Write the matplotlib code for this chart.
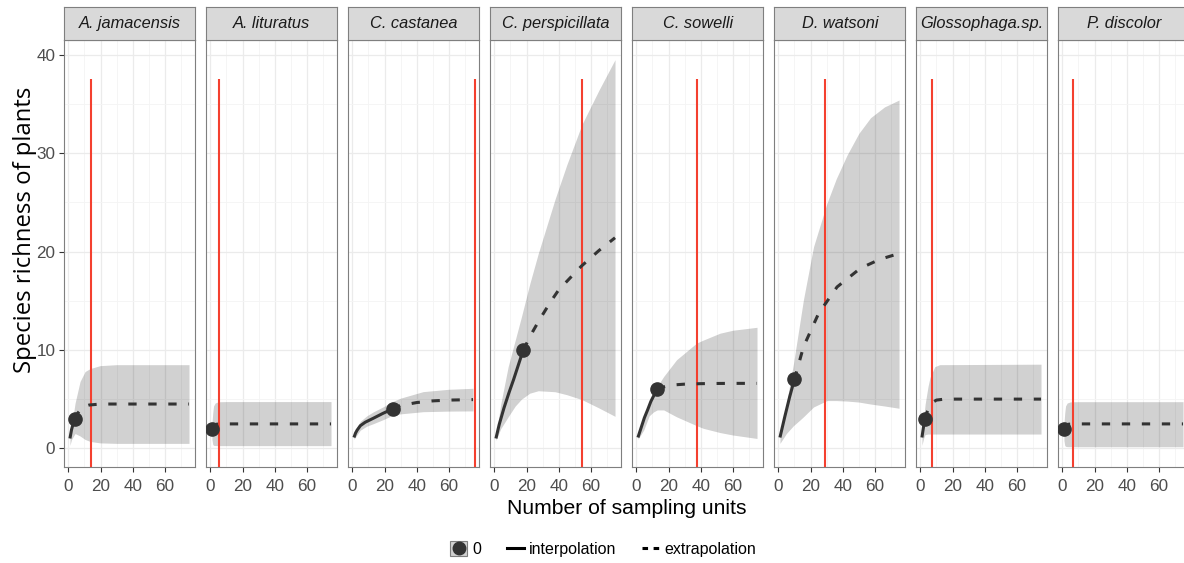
import matplotlib
matplotlib.use("Agg")
import matplotlib.pyplot as plt
from matplotlib.lines import Line2D
from matplotlib.patches import Patch
from matplotlib.legend_handler import HandlerTuple

plt.rcParams['font.family'] = ['Liberation Sans', 'DejaVu Sans']

species = ["A. jamacensis", "A. lituratus", "C. castanea", "C. perspicillata",
           "C. sowelli", "D. watsoni", "Glossophaga.sp.", "P. discolor"]

# observed sampling units / richness (the big dots)
obs_units = [4, 1, 25, 18, 13, 10, 3, 1]
obs_richness = [3, 2, 4, 10, 6, 7, 3, 2]

# red reference lines
cutoff_x = [14, 5.6, 76.5, 54.4, 38, 29.2, 7.3, 6.5]
cutoff_top = 37.5

# interpolated (rarefied) richness
interp_t = [
    [1, 2, 3, 4],
    [1],
    [1, 2, 3, 5, 8, 13, 19, 25],
    [1, 3, 6, 9, 12, 15, 18],
    [1, 3, 5, 7, 9, 11, 13],
    [1, 4, 7, 10],
    [1, 2, 3],
    [1],
]
interp_s = [
    [1.0, 1.9, 2.5, 3.0],
    [2.0],
    [1.1, 1.55, 1.85, 2.3, 2.65, 3.05, 3.55, 4.0],
    [1.0, 2.4, 4.1, 5.6, 7.0, 8.5, 10.0],
    [1.1, 2.1, 3.1, 3.9, 4.75, 5.4, 6.0],
    [1.1, 3.2, 5.2, 7.0],
    [1.1, 2.2, 3.0],
    [2.0],
]

# extrapolated richness
extrap_t = [
    [4, 6, 8, 10, 13, 20, 75],
    [1, 2, 3, 4, 6, 10, 75],
    [25, 30, 40, 50, 60, 75],
    [18, 24, 28, 35, 40, 54, 65, 75],
    [13, 16, 20, 23, 30, 40, 50, 60, 75],
    [10, 15.6, 25, 36.5, 51, 63, 75],
    [3, 4, 6, 8, 10, 15, 75],
    [1, 2, 3, 4, 6, 10, 75],
]
extrap_s = [
    [3.0, 3.6, 4.0, 4.25, 4.4, 4.5, 4.5],
    [2.0, 2.3, 2.4, 2.45, 2.47, 2.48, 2.48],
    [4.0, 4.35, 4.65, 4.82, 4.9, 4.95],
    [10.0, 11.9, 13.05, 14.9, 16.1, 18.5, 20.1, 21.4],
    [6.0, 6.2, 6.35, 6.44, 6.52, 6.57, 6.59, 6.6, 6.6],
    [7.0, 10.3, 13.7, 16.4, 18.3, 19.2, 19.8],
    [3.0, 3.6, 4.3, 4.7, 4.9, 5.0, 5.0],
    [2.0, 2.3, 2.4, 2.45, 2.47, 2.48, 2.48],
]

# 95% confidence band
band_t = [
    [1, 2, 4.2, 7.3, 10.4, 13.5, 19.7, 30, 75],
    [1, 1.5, 2, 3, 5, 10, 75],
    [1, 3, 5, 9, 13, 19, 25, 30, 44, 60, 75],
    [1, 4, 8.6, 13, 16.9, 22, 27.3, 37.7, 45, 54.4, 65, 75],
    [1, 4.6, 8, 10.7, 13, 17, 25, 37.5, 41.6, 52, 60, 75],
    [1, 5, 9.4, 13.6, 15.6, 21.9, 30.2, 36, 42.7, 50, 57.3, 66, 75],
    [1, 2, 3, 4.8, 6, 9, 12, 75],
    [1, 1.5, 2, 3, 5, 10, 75],
]
band_lo = [
    [0.3, 0.9, 1.5, 1.25, 0.9, 0.7, 0.55, 0.5, 0.5],
    [0.9, 0.4, 0.3, 0.28, 0.27, 0.27, 0.27],
    [0.9, 1.4, 1.85, 2.25, 2.5, 2.9, 3.35, 3.5, 3.72, 3.78, 3.8],
    [0.8, 2.0, 3.2, 4.3, 5.0, 5.6, 5.85, 5.75, 5.45, 4.95, 4.1, 3.25],
    [0.9, 1.86, 3.3, 3.7, 3.9, 3.9, 3.2, 2.3, 2.03, 1.6, 1.35, 1.0],
    [0.5, 1.5, 2.3, 2.9, 3.2, 4.2, 4.85, 4.85, 4.8, 4.7, 4.5, 4.3, 4.07],
    [0.3, 1.0, 1.4, 1.45, 1.45, 1.45, 1.45, 1.45],
    [0.8, 0.3, 0.2, 0.17, 0.16, 0.16, 0.16],
]
band_hi = [
    [1.3, 2.2, 4.6, 6.8, 7.8, 8.1, 8.4, 8.5, 8.5],
    [2.5, 3.6, 4.3, 4.6, 4.73, 4.75, 4.75],
    [1.3, 2.2, 2.75, 3.3, 3.7, 4.2, 4.75, 5.1, 5.76, 6.0, 6.1],
    [1.2, 4.5, 8.3, 11.0, 13.4, 16.7, 19.8, 25.3, 28.8, 32.9, 36.4, 39.5],
    [1.2, 3.2, 4.7, 5.6, 6.3, 7.3, 9.0, 10.7, 11.0, 11.7, 12.0, 12.3],
    [1.2, 4.5, 8.6, 13.0, 15.1, 20.5, 24.9, 27.4, 29.8, 32.0, 33.6, 34.7, 35.4],
    [1.3, 3.0, 4.5, 6.3, 7.2, 8.3, 8.5, 8.55],
    [2.5, 3.6, 4.3, 4.6, 4.72, 4.74, 4.74],
]

W, H = 1184, 563
fig = plt.figure(figsize=(W / 100, H / 100), dpi=100)

line_col = '#333333'
red = '#f4402f'
frame = '#7f7f7f'
lw = 2.2
dash = (0, (6 / lw, 8.4 / lw))

panel_w, panel_h = 131, 426.7
strip_h = 33.3
bottom = 96.3

for i, name in enumerate(species):
    left = 64.3 + 142 * i
    ax = fig.add_axes([left / W, bottom / H, panel_w / W, panel_h / H])
    ax.set_xlim(-2.5, 78.9)
    ax.set_ylim(-1.87, 41.5)
    ax.set_xticks([0, 20, 40, 60])
    ax.set_xticks([10, 30, 50, 70], minor=True)
    ax.set_yticks([0, 10, 20, 30, 40])
    ax.set_yticks([5, 15, 25, 35], minor=True)
    ax.grid(which='major', color='#ebebeb', lw=0.9)
    ax.grid(which='minor', color='#f4f4f4', lw=0.6)
    ax.set_axisbelow(True)
    ax.tick_params(which='minor', length=0)
    ax.tick_params(which='major', length=3.5, width=0.8, color='#333333',
                   labelsize=12.3, labelcolor='#4d4d4d', pad=3)
    ax.tick_params(axis='x', which='major', pad=5)
    if i > 0:
        ax.tick_params(axis='y', which='major', length=0, labelleft=False)
    for sp in ax.spines.values():
        sp.set_color(frame)
        sp.set_linewidth(0.8)

    ax.fill_between(band_t[i], band_lo[i], band_hi[i], color='black',
                    alpha=0.18, lw=0)
    ax.vlines(cutoff_x[i], -1.87, cutoff_top, color=red, lw=1.5, zorder=3)
    ax.plot(interp_t[i], interp_s[i], color=line_col, lw=lw,
            solid_capstyle='butt', zorder=4)
    ax.plot(extrap_t[i], extrap_s[i], color=line_col, lw=lw,
            linestyle=dash, dash_capstyle='butt', zorder=4)
    ax.plot(obs_units[i], obs_richness[i], 'o', color=line_col, ms=9.5,
            zorder=5)

    # facet strip
    sax = fig.add_axes([left / W, (bottom + panel_h) / H, panel_w / W, strip_h / H])
    sax.set_facecolor('#d9d9d9')
    sax.set_xticks([])
    sax.set_yticks([])
    for sp in sax.spines.values():
        sp.set_color(frame)
        sp.set_linewidth(0.8)
    sax.text(0.5, 0.5, name, ha='center', va='center', style='italic',
             fontsize=11.8, color='#1a1a1a', transform=sax.transAxes)

fig.text(25 / W, 333 / H, 'Species richness of plants', rotation=90,
         ha='center', va='center', fontsize=17.2, family='Open Sans')
fig.text(627 / W, 55 / H, 'Number of sampling units', ha='center',
         va='center', fontsize=15.2)

handles = [
    (Patch(facecolor='#d1d1d1', edgecolor=frame, lw=0.8),
     Line2D([], [], marker='o', color=line_col, ms=9, ls='none')),
    Line2D([], [], color='black', lw=lw),
    Line2D([], [], color='black', lw=lw, linestyle=(0, (4 / lw, 4 / lw)),
           dash_capstyle='butt'),
]
fig.legend(handles, ['0', 'interpolation', 'extrapolation'],
           handler_map={tuple: HandlerTuple(ndivide=1)},
           loc='center', bbox_to_anchor=(603 / W, 14 / H), ncol=3,
           frameon=False, fontsize=11.5, handlelength=1.1, handleheight=1.1,
           handletextpad=0.3, columnspacing=1.6, borderaxespad=0)

fig.savefig('out.png', dpi=100, facecolor='white')
